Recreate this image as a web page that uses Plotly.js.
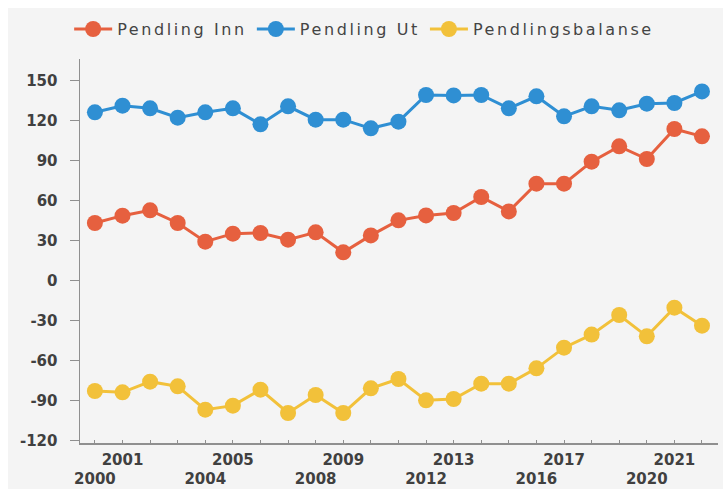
<!DOCTYPE html>
<html>
<head>
<meta charset="utf-8">
<script src="https://cdn.plot.ly/plotly-3.0.1.min.js"></script>
<style>
  html, body { margin: 0; padding: 0; background: #ffffff; width: 723px; height: 489px; overflow: hidden; }
  #chart { position: absolute; left: 8px; top: 8px; width: 715px; height: 481px; }
  text.legendtext { letter-spacing: 2.6px; }
</style>
</head>
<body>
<div id="chart"></div>
<script>
const years = [2000,2001,2002,2003,2004,2005,2006,2007,2008,2009,2010,2011,2012,2013,2014,2015,2016,2017,2018,2019,2020,2021,2022];
const pendlingInn = [43,48.5,52.5,43,29,35,35.5,30.5,36,21,33.7,45,48.7,50.5,62.5,51.7,72.5,72.5,89,100.5,91,113.5,108];
const pendlingUt = [126,131,129,122,126,129,117,130.5,120.5,120.5,114,119,139,138.7,139,129,138,123,130.5,127.5,132.5,133,141.7];
const pendlingsbalanse = [-83,-84,-76,-79.5,-97,-94,-82,-99.5,-86,-99.5,-81,-74,-90,-89,-77.5,-77.5,-66,-50.5,-40.7,-26,-42,-20.5,-34];
const seriesNames = ['Pendling Inn','Pendling Ut','Pendlingsbalanse'];
const xTickYears = [2000,2001,2004,2005,2008,2009,2012,2013,2016,2017,2020,2021];
const xTickLabels = ['<br>2000','2001','<br>2004','2005','<br>2008','2009','<br>2012','2013','<br>2016','2017','<br>2020','2021'];
const yTickValues = [-120,-90,-60,-30,0,30,60,90,120,150];
const yTickLabels = ['-120','-90','-60','-30','0','30','60','90','120','150'];

const colors = ['#e6603f','#2f8fd3','#f2c13a'];
const values = [pendlingInn, pendlingUt, pendlingsbalanse];

const traces = values.map((v,i) => ({
  x: years, y: v, name: seriesNames[i], type: 'scatter', mode: 'lines+markers',
  line: {color: colors[i], width: 3},
  marker: {color: colors[i], size: 16, line: {width: 0}}
}));

const tickFont = {family: 'DejaVu Sans, Verdana, sans-serif', size: 15, color: '#404040', weight: 'bold'};

const layout = {
  width: 715, height: 481,
  margin: {l: 72, r: 5, t: 50, b: 46},
  paper_bgcolor: '#f4f4f4',
  plot_bgcolor: '#f4f4f4',
  font: {family: 'DejaVu Sans, Verdana, sans-serif', size: 15, color: '#3a3a3a'},
  showlegend: true,
  legend: {orientation: 'h', x: -0.017, xanchor: 'left', y: 1.075, yanchor: 'middle',
           font: {size: 16, color: '#444444'}, bgcolor: 'rgba(0,0,0,0)', itemwidth: 38},
  xaxis: {
    range: [1999.46, 2022.58], showgrid: false, zeroline: false,
    showline: true, linecolor: '#8f8f8f', linewidth: 1.5,
    tickmode: 'array', tickvals: xTickYears, ticktext: xTickLabels, tickangle: 0,
    ticks: 'inside', ticklen: 3, tickcolor: '#8f8f8f', ticklabelstandoff: 2,
    minor: {dtick: 1, tick0: 2000, ticks: 'inside', ticklen: 3, tickcolor: '#8f8f8f'},
    tickfont: tickFont
  },
  yaxis: {
    range: [-122, 166], showgrid: false, zeroline: false,
    showline: true, linecolor: '#8f8f8f', linewidth: 1.5,
    tickmode: 'array', tickvals: yTickValues, ticktext: yTickLabels,
    ticks: 'outside', ticklen: 9, tickcolor: '#8f8f8f',
    ticklabelstandoff: 9,
    tickfont: tickFont
  }
};

Plotly.newPlot('chart', traces, layout, {displayModeBar: false, staticPlot: true});
</script>
</body>
</html>
